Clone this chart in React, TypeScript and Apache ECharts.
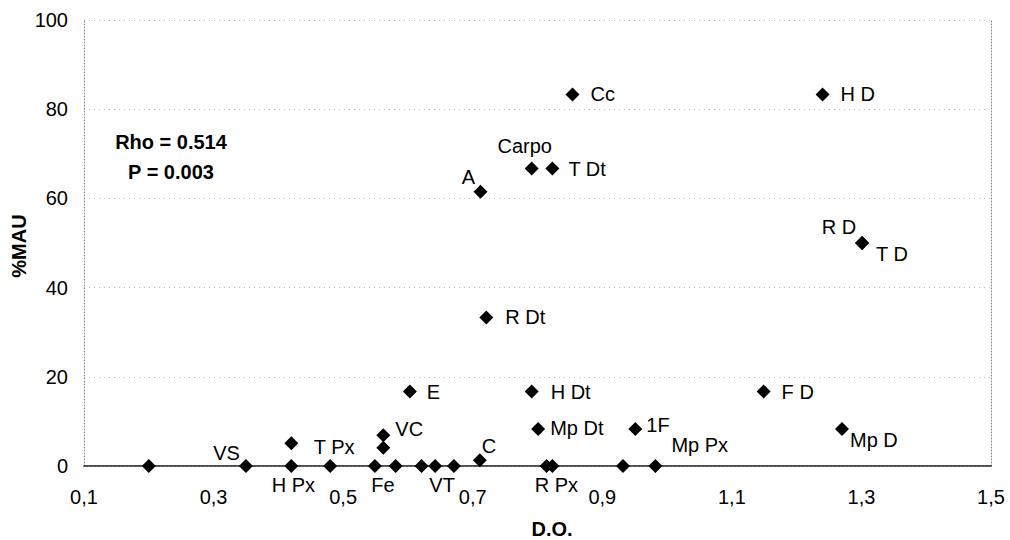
import React, { useEffect, useRef } from "react";
import * as echarts from "echarts";

// D.O. (x) and %MAU (y) per element; empty label = unlabeled point
const pointLabels = [
  "", "VS", "H Px", "", "T Px", "Fe", "VC", "", "", "", "VT", "", "C",
  "A", "R Dt", "E", "Carpo", "T Dt", "Cc", "H Dt", "Mp Dt", "", "R Px",
  "", "Mp Px", "1F", "F D", "H D", "R D", "T D", "Mp D",
];
const doValues = [
  0.2, 0.35, 0.42, 0.42, 0.48, 0.549, 0.562, 0.562, 0.581, 0.621, 0.642, 0.671, 0.711,
  0.712, 0.721, 0.603, 0.791, 0.823, 0.854, 0.791, 0.801, 0.814, 0.823,
  0.932, 0.982, 0.951, 1.149, 1.24, 1.301, 1.301, 1.27,
];
const mauValues = [
  0, 0, 0, 5.1, 0, 0, 6.9, 4.1, 0, 0, 0, 0, 1.3,
  61.5, 33.3, 16.7, 66.7, 66.7, 83.3, 16.7, 8.3, 0, 0,
  0, 0, 8.3, 16.7, 83.3, 50, 50, 8.3,
];

const xTicks = { min: 0.1, max: 1.5, interval: 0.2 };
const yTicks = { min: 0, max: 100, interval: 20 };

const statLines = ["Rho = 0.514", "P = 0.003"];
const xTitle = "D.O.";
const yTitle = "%MAU";

// label placement (style): offset from the marker centre + text alignment
const labelLayout: Record<string, { dx: number; dy: number; align: string }> = {
  "VS": { dx: -6, dy: -13, align: "right" },
  "H Px": { dx: 2, dy: 19, align: "center" },
  "T Px": { dx: 4, dy: -19, align: "center" },
  "Fe": { dx: 8, dy: 19, align: "center" },
  "VC": { dx: 12, dy: -6, align: "left" },
  "VT": { dx: 7, dy: 19, align: "center" },
  "C": { dx: 2, dy: -14, align: "left" },
  "A": { dx: -12, dy: -15, align: "center" },
  "R Dt": { dx: 19, dy: 0, align: "left" },
  "E": { dx: 17, dy: 0, align: "left" },
  "Carpo": { dx: -7, dy: -23, align: "center" },
  "T Dt": { dx: 16, dy: 0, align: "left" },
  "Cc": { dx: 18, dy: 0, align: "left" },
  "H Dt": { dx: 19, dy: 0, align: "left" },
  "Mp Dt": { dx: 12, dy: -1, align: "left" },
  "R Px": { dx: 4, dy: 19, align: "center" },
  "Mp Px": { dx: 16, dy: -21, align: "left" },
  "1F": { dx: 11, dy: -4, align: "left" },
  "F D": { dx: 18, dy: 0, align: "left" },
  "H D": { dx: 18, dy: 0, align: "left" },
  "R D": { dx: -23, dy: -16, align: "center" },
  "T D": { dx: 14, dy: 11, align: "left" },
  "Mp D": { dx: 8, dy: 11, align: "left" },
};

const FONT = "'Liberation Sans', Arial, sans-serif";

export default function App() {
  const ref = useRef<HTMLDivElement>(null);
  useEffect(() => {
    if (!ref.current) return;
    const chart = echarts.init(ref.current, null, { renderer: "svg" });

    const data = doValues.map((x, i) => {
      const name = pointLabels[i];
      const lay = labelLayout[name];
      return {
        value: [x, mauValues[i]],
        name,
        label: name
          ? {
              show: true,
              position: "inside",
              formatter: name,
              offset: [lay.dx, lay.dy],
              align: lay.align,
              verticalAlign: "middle",
              color: "#000",
              fontSize: 20,
              fontFamily: FONT,
            }
          : { show: false },
      };
    });

    const frameLine = { show: true, lineStyle: { color: "#888", type: [1, 2], width: 1 } };

    chart.setOption({
      animation: false,
      backgroundColor: "#fff",
      grid: { left: 84, right: 19, top: 20, bottom: 74 },
      xAxis: [
        {
          type: "value",
          min: xTicks.min,
          max: xTicks.max,
          interval: xTicks.interval,
          axisLine: { show: true, onZero: false, lineStyle: { color: "#111", width: 1.5 } },
          axisTick: { show: false },
          splitLine: { show: false },
          axisLabel: {
            color: "#000",
            fontSize: 20,
            fontFamily: FONT,
            margin: 21,
            formatter: (v: number) => v.toFixed(1).replace(".", ","),
          },
        },
        {
          type: "value",
          position: "top",
          min: xTicks.min,
          max: xTicks.max,
          axisLine: { show: true, lineStyle: { color: "#666", type: [2, 2], width: 1 } },
          axisTick: { show: false },
          axisLabel: { show: false },
          splitLine: { show: false },
        },
      ],
      yAxis: [
        {
          type: "value",
          min: yTicks.min,
          max: yTicks.max,
          interval: yTicks.interval,
          axisLine: frameLine,
          axisTick: { show: false },
          axisLabel: { color: "#000", fontSize: 20, fontFamily: FONT, margin: 16 },
          splitLine: { show: true, lineStyle: { color: "#bbb", type: [1, 4], width: 1 } },
        },
        {
          type: "value",
          position: "right",
          min: yTicks.min,
          max: yTicks.max,
          interval: yTicks.interval,
          axisLine: frameLine,
          axisTick: { show: false },
          axisLabel: { show: false },
          splitLine: { show: false },
        },
      ],
      graphic: [
        {
          type: "text",
          x: 171,
          y: 142,
          style: {
            text: statLines[0],
            fill: "#000",
            font: `bold 20px ${FONT}`,
            textAlign: "center",
            textVerticalAlign: "middle",
          },
        },
        {
          type: "text",
          x: 171,
          y: 172,
          style: {
            text: statLines[1],
            fill: "#000",
            font: `bold 20px ${FONT}`,
            textAlign: "center",
            textVerticalAlign: "middle",
          },
        },
        {
          type: "text",
          x: 552,
          y: 529,
          style: {
            text: xTitle,
            fill: "#000",
            font: `bold 20px ${FONT}`,
            textAlign: "center",
            textVerticalAlign: "middle",
          },
        },
        {
          type: "text",
          x: 19,
          y: 246,
          rotation: Math.PI / 2,
          style: {
            text: yTitle,
            fill: "#000",
            font: `bold 20px ${FONT}`,
            textAlign: "center",
            textVerticalAlign: "middle",
          },
        },
      ],
      series: [
        {
          type: "scatter",
          xAxisIndex: 0,
          yAxisIndex: 0,
          symbol: "diamond",
          symbolSize: 14,
          itemStyle: { color: "#000", opacity: 1 },
          data,
        },
      ],
    });
    return () => chart.dispose();
  }, []);

  return (
    <div
      ref={ref}
      style={{ position: "fixed", left: 0, top: 0, width: 1010, height: 540, background: "#fff" }}
    />
  );
}
